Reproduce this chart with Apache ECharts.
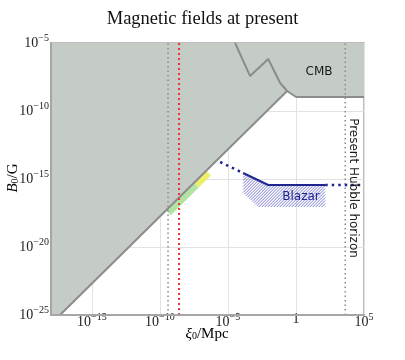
<!DOCTYPE html>
<html>
<head>
<meta charset="utf-8">
<script src="https://cdn.jsdelivr.net/npm/echarts@6/dist/echarts.min.js"></script>
<style>
html, body { margin: 0; padding: 0; background: #fff; }
#container { width: 405px; height: 360px; }
</style>
</head>
<body>
<div id="container"></div>
<script>
// every value is log10 of the quantity (xi in Mpc, B in G)
var xTicks = [-15, -10, -5, 0, 5];
var yTicks = [-25, -20, -15, -10, -5];

// lower edge of the excluded grey region
var boundX = [-18, -17.34, -0.65, 0.01, 5];
var boundY = [-25, -25, -8.53, -8.97, -8.97];
// CMB zig-zag inside the grey region
var cmbX = [-4.47, -3.37, -2.04, -1.16, -0.65];
var cmbY = [-5, -7.43, -6.18, -7.94, -8.53];
// coloured strips along the edge
var greenX = [-9.35, -7.3];
var greenY = [-17.5, -15.47];
var yellowX = [-7.3, -6.4];
var yellowY = [-15.47, -14.58];
// vertical reference lines
var greyLineX = -9.40;
var redLineX = -8.59;
var hubbleX = 3.62;
// blazar bound
var blazarDot1X = [-5.57, -3.88];
var blazarDot1Y = [-13.75, -14.56];
var blazarX = [-3.88, -2.04, 2.15];
var blazarY = [-14.56, -15.44, -15.44];
var blazarDot2X = [2.15, 5];
var blazarDot2Y = [-15.44, -15.44];
var hatchX = [-3.88, -2.04, 2.15, 2.15, -2.78, -3.88];
var hatchY = [-14.56, -15.44, -15.44, -17.06, -17.06, -16.03];

function pairs(xs, ys) {
    return xs.map(function (x, i) { return [x, ys[i]]; });
}
function vline(x) {
    return [[x, -25], [x, -5]];
}

// "////" hatching clipped to a polygon given in pixels
function hatchLines(pts, gap, color) {
    var sums = pts.map(function (p) { return p[0] + p[1]; });
    var lo = Math.min.apply(null, sums), hi = Math.max.apply(null, sums);
    var out = [];
    for (var u = lo + gap / 2; u < hi; u += gap) {
        var xs = [];
        for (var k = 0; k < pts.length; k++) {
            var a = pts[k], b = pts[(k + 1) % pts.length];
            var sa = a[0] + a[1] - u, sb = b[0] + b[1] - u;
            if ((sa < 0) !== (sb < 0)) {
                var t = sa / (sa - sb);
                xs.push(a[0] + t * (b[0] - a[0]));
            }
        }
        xs.sort(function (p, q) { return p - q; });
        for (var m = 0; m + 1 < xs.length; m += 2) {
            out.push({
                type: 'line',
                shape: { x1: xs[m], y1: u - xs[m], x2: xs[m + 1], y2: u - xs[m + 1] },
                style: { stroke: color, lineWidth: 0.8 }
            });
        }
    }
    return out;
}

var serif = 'Liberation Serif';
var sans = 'DejaVu Sans';
var tickRich = {
    b: { fontFamily: serif, fontSize: 14, color: '#222' },
    e: { fontFamily: serif, fontSize: 10, color: '#222', padding: [0, 0, 10, 0] }
};
function powLabel(v) {
    if (v === 0) return '{b|1}';
    return '{b|10}{e|' + (v < 0 ? '\u2212' + (-v) : v) + '}';
}

var greyEdge = '#8c8c8c';
var spine = '#a6a6a6';

let chart = echarts.init(document.getElementById('container'));
let option = {
    animation: false,
    title: {
        text: 'Magnetic fields at present',
        left: 'center',
        top: 5,
        textStyle: { fontFamily: serif, fontSize: 18.5, fontWeight: 'normal', color: '#111' }
    },
    grid: {
        left: 51, top: 43, width: 313, height: 272,
        containLabel: false,
        outerBoundsMode: 'none',
        show: true,
        borderColor: spine,
        borderWidth: 1.5,
        backgroundColor: '#fff'
    },
    xAxis: [{
        type: 'value', min: -18, max: 5,
        axisLine: { show: false, onZero: false },
        axisTick: { show: false, customValues: xTicks },
        axisLabel: { customValues: xTicks, formatter: powLabel, rich: tickRich, margin: -3 },
        splitLine: { show: true, lineStyle: { color: '#e2e2e2', width: 1 } }
    }, {
        // spine drawn over the filled region
        type: 'value', min: -18, max: 5, position: 'bottom', z: 5,
        axisLine: { show: true, onZero: false, lineStyle: { color: spine, width: 2 } },
        axisTick: { show: false },
        axisLabel: { show: false },
        splitLine: { show: false }
    }],
    yAxis: [{
        type: 'value', min: -25, max: -5, interval: 5,
        axisLine: { show: false, onZero: false },
        axisTick: { show: false },
        axisLabel: { formatter: powLabel, rich: tickRich, margin: 2 },
        splitLine: { show: true, lineStyle: { color: '#e2e2e2', width: 1 } }
    }, {
        type: 'value', min: -25, max: -5, position: 'left', z: 5,
        axisLine: { show: true, onZero: false, lineStyle: { color: spine, width: 2 } },
        axisTick: { show: false },
        axisLabel: { show: false },
        splitLine: { show: false }
    }],
    graphic: [
        {
            type: 'text', x: 207, y: 334, z: 10,
            style: {
                text: '{i|\u03be}{s|0}{n|/Mpc}', align: 'center', verticalAlign: 'middle',
                rich: {
                    i: { fontFamily: serif, fontStyle: 'italic', fontSize: 15, color: '#222' },
                    s: { fontFamily: serif, fontSize: 10, color: '#222', verticalAlign: 'bottom', lineHeight: 10 },
                    n: { fontFamily: serif, fontSize: 15, color: '#222' }
                }
            }
        },
        {
            type: 'text', x: 13, y: 178, rotation: Math.PI / 2, z: 10,
            style: {
                text: '{i|B}{s|0}{n|/G}', align: 'center', verticalAlign: 'middle',
                rich: {
                    i: { fontFamily: serif, fontStyle: 'italic', fontSize: 15, color: '#222' },
                    s: { fontFamily: serif, fontSize: 10, color: '#222', verticalAlign: 'bottom', lineHeight: 10 },
                    n: { fontFamily: serif, fontSize: 15, color: '#222' }
                }
            }
        },
        {
            type: 'text', x: 319, y: 72, z: 10,
            style: { text: 'CMB', fontFamily: sans, fontSize: 12, fill: '#1a1a1a', align: 'center', verticalAlign: 'middle' }
        },
        {
            type: 'text', x: 301, y: 197, z: 10,
            style: { text: 'Blazar', fontFamily: sans, fontSize: 12, fill: '#1f248f', align: 'center', verticalAlign: 'middle' }
        },
        {
            type: 'text', x: 353, y: 188, rotation: -Math.PI / 2, z: 10,
            style: { text: 'Present Hubble horizon', fontFamily: sans, fontSize: 12, fill: '#1a1a1a', align: 'center', verticalAlign: 'middle' }
        }
    ],
    series: [
        {
            // grey excluded region
            type: 'line', symbol: 'none', z: 1,
            data: pairs(boundX, boundY),
            lineStyle: { width: 0 },
            areaStyle: { origin: 'end', color: '#c5ccc6', opacity: 1 }
        },
        {
            type: 'line', symbol: 'none', z: 2,
            data: pairs(greenX, greenY),
            lineStyle: { color: '#b3e3a3', width: 6, cap: 'butt' }
        },
        {
            type: 'line', symbol: 'none', z: 2,
            data: pairs(yellowX, yellowY),
            lineStyle: { color: '#eeee6a', width: 6, cap: 'butt' }
        },
        {
            type: 'line', symbol: 'none', z: 3,
            data: pairs(boundX, boundY),
            lineStyle: { color: greyEdge, width: 2 }
        },
        {
            type: 'line', symbol: 'none', z: 3,
            data: pairs(cmbX, cmbY),
            lineStyle: { color: greyEdge, width: 2 }
        },
        {
            type: 'line', symbol: 'none', z: 3,
            data: vline(greyLineX),
            lineStyle: { color: '#8a8a8a', width: 1.5, type: [1.5, 3] }
        },
        {
            type: 'line', symbol: 'none', z: 3,
            data: vline(redLineX),
            lineStyle: { color: '#ee3030', width: 2, type: [2, 3] }
        },
        {
            type: 'line', symbol: 'none', z: 3,
            data: vline(hubbleX),
            lineStyle: { color: '#8a8a8a', width: 1.5, type: [1.5, 3] }
        },
        {
            // hatched blazar region
            type: 'custom', z: 2,
            renderItem: function (params, api) {
                var pts = hatchX.map(function (x, i) { return api.coord([x, hatchY[i]]); });
                return { type: 'group', children: hatchLines(pts, 3, '#5a5ac8') };
            },
            data: [[hatchX[0], hatchY[0]]]
        },
        {
            type: 'line', symbol: 'none', z: 4,
            data: pairs(blazarDot1X, blazarDot1Y),
            lineStyle: { color: '#1f248f', width: 2.5, type: [2.5, 4] }
        },
        {
            type: 'line', symbol: 'none', z: 4,
            data: pairs(blazarX, blazarY),
            lineStyle: { color: '#1f248f', width: 2 }
        },
        {
            type: 'line', symbol: 'none', z: 4,
            data: pairs(blazarDot2X, blazarDot2Y),
            lineStyle: { color: '#1f248f', width: 2.5, type: [2.5, 4] }
        }
    ]
};
chart.setOption(option);
</script>
</body>
</html>
